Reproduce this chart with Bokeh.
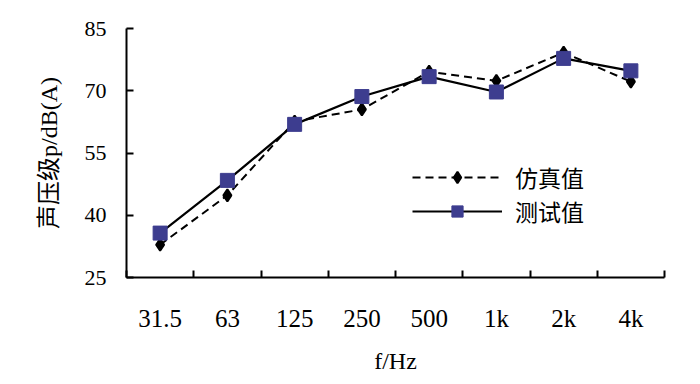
import numpy as np
from bokeh.plotting import figure
from bokeh.models import Legend, LegendItem, FixedTicker, Range1d, ColumnDataSource
from bokeh.embed import file_html
from bokeh.resources import INLINE

# ---- data ----
categories = ["31.5", "63", "125", "250", "500", "1k", "2k", "4k"]
sim_values = [32.9, 44.8, 62.6, 65.5, 74.6, 72.4, 79.2, 72.2]    # 仿真值
meas_values = [35.7, 48.4, 61.9, 68.6, 73.4, 69.7, 77.8, 74.8]   # 测试值
y_ticks = [25, 40, 55, 70, 85]
series_names = ["仿真值", "测试值"]
x_title = "f/Hz"
y_title = "声压级p/dB(A)"

SERIF = "Liberation Serif"
CJK = "Noto Sans CJK SC"
MIXED = "Liberation Serif, Noto Sans CJK SC"

n = len(categories)
xpos = [i + 0.5 for i in range(n)]
src = ColumnDataSource(dict(x=xpos, sim=sim_values, meas=meas_values))

p = figure(width=692, height=376, x_range=Range1d(0, n), y_range=Range1d(y_ticks[0], y_ticks[-1]),
           output_backend="svg", toolbar_location=None,
           min_border_left=126, min_border_right=28, min_border_top=28, min_border_bottom=96)
p.outline_line_color = None
p.grid.visible = False
p.background_fill_color = "white"
p.border_fill_color = "white"

# axes
for ax in (p.xaxis[0], p.yaxis[0]):
    ax.axis_line_width = 2
    ax.axis_line_color = "black"
    ax.major_label_text_font = SERIF
    ax.major_label_text_color = "black"
    ax.axis_label_text_font = MIXED
    ax.axis_label_text_font_style = "normal"
    ax.axis_label_text_color = "black"
    ax.axis_label_text_font_size = "24px"

p.yaxis.ticker = FixedTicker(ticks=y_ticks)
p.yaxis.major_tick_in = 7
p.yaxis.major_tick_out = 0
p.yaxis.major_tick_line_width = 2
p.yaxis.minor_tick_line_color = None
p.yaxis.major_label_text_font_size = "22px"
p.yaxis.major_label_standoff = 20
p.yaxis.axis_label = y_title
p.yaxis.axis_label_standoff = 20

p.xaxis.ticker = FixedTicker(ticks=xpos, minor_ticks=list(range(n + 1)))
p.xaxis.major_label_overrides = {x: c for x, c in zip(xpos, categories)}
p.xaxis.major_tick_in = 0
p.xaxis.major_tick_out = 0
p.xaxis.minor_tick_in = 7
p.xaxis.minor_tick_out = 0
p.xaxis.minor_tick_line_width = 2
p.xaxis.minor_tick_line_color = "black"
p.xaxis.major_label_text_font_size = "25px"
p.xaxis.major_label_standoff = 27
p.xaxis.axis_label = x_title
p.xaxis.axis_label_standoff = 13

# series
l1 = p.line("x", "sim", source=src, line_color="black", line_width=2, line_dash="8 5")
s1 = p.scatter("x", "sim", source=src, marker="diamond", size=12, line_width=2,
               fill_color="black", line_color="black")
l2 = p.line("x", "meas", source=src, line_color="black", line_width=2.2)
s2 = p.scatter("x", "meas", source=src, marker="square", size=14,
               fill_color="#3d3d8f", line_color="#3d3d8f")

legend = Legend(items=[LegendItem(label=series_names[0], renderers=[l1, s1]),
                       LegendItem(label=series_names[1], renderers=[l2, s2])],
                location=(286, 49), orientation="vertical",
                glyph_width=90, glyph_height=28, label_height=28, spacing=-3,
                label_standoff=13, padding=0, margin=0,
                border_line_color=None, background_fill_alpha=0,
                label_text_font=CJK, label_text_font_size="23px", label_text_color="black")
p.add_layout(legend)

open("out.html", "w").write(file_html(p, INLINE))
